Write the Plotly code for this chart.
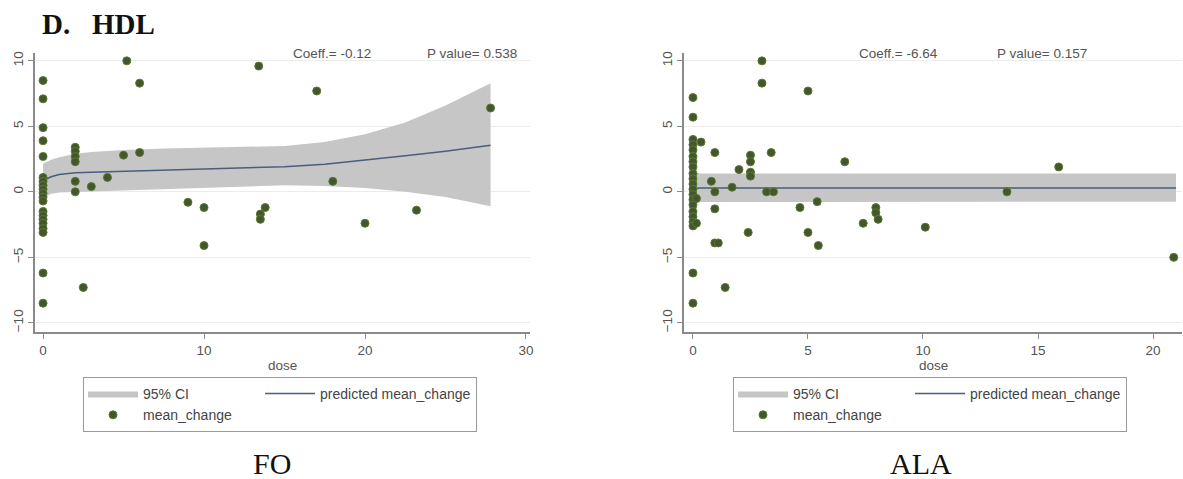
import plotly.graph_objects as go

# ---- FO panel: observed changes ----
fo_dose = [0] * 20 + [2] * 6 + [2.5, 3.0, 4.0, 5.0, 5.2, 6.0, 6.0, 9.0, 10, 10,
                            13.4, 13.5, 13.5, 13.8, 17, 18, 20, 23.2, 27.8]
fo_change = [8.5, 7.1, 4.9, 3.9, 2.7, 1.1, 0.8, 0.5, 0.2, -0.1, -0.4, -0.7,
             -1.5, -1.8, -2.1, -2.4, -2.8, -3.1, -6.2, -8.5,
             3.4, 3.1, 2.7, 2.3, 0.8, 0.0,
             -7.3, 0.4, 1.1, 2.8, 10.0, 8.3, 3.0, -0.8, -1.2, -4.1,
             9.6, -1.7, -2.1, -1.2, 7.7, 0.8, -2.4, -1.4, 6.4]

# ---- FO panel: fitted curve and 95% CI ----
fo_fit_dose = [0, 0.5, 1, 2, 3, 5, 7.5, 10, 12.5, 15, 17.5, 20, 22.5, 25, 27.8]
fo_fit = [0.85, 1.15, 1.32, 1.45, 1.5, 1.57, 1.63, 1.7, 1.78, 1.92, 2.1, 2.4, 2.75, 3.1, 3.55]
fo_upper = [2.15, 2.45, 2.65, 2.9, 3.05, 3.2, 3.3, 3.35, 3.4, 3.5, 3.8, 4.4, 5.3, 6.6, 8.3]
fo_lower = [-0.45, -0.15, -0.05, 0.0, 0.0, 0.1, 0.2, 0.3, 0.4, 0.5, 0.45, 0.3, 0.0, -0.4, -1.1]

# ---- ALA panel: observed changes ----
ala_dose = [0] * 21 + [0.15, 0.15, 0.35, 0.8, 0.95, 0.95, 0.95, 0.95, 1.1, 1.4,
                       1.7, 2.0, 2.4, 2.5, 2.5, 2.5, 2.5, 3.0, 3.0, 3.2, 3.5, 3.4,
                       4.65, 5.0, 5.0, 5.4, 5.45, 6.6, 7.4, 7.95, 7.95, 8.05,
                       10.1, 13.65, 15.9, 20.9]
ala_change = [7.2, 5.7, 4.0, 3.6, 3.2, 2.7, 2.3, 1.9, 1.4, 1.0, 0.6, 0.2, -0.2,
              -0.6, -1.0, -1.5, -1.9, -2.3, -2.6, -6.2, -8.5,
              -0.5, -2.4, 3.8, 0.8, 3.0, 0.0, -1.3, -3.9, -3.9, -7.3,
              0.35, 1.7, -3.1, 2.8, 2.3, 1.5, 1.2, 10.0, 8.3, 0.0, 0.0, 3.0,
              -1.2, 7.7, -3.1, -0.75, -4.1, 2.3, -2.4, -1.2, -1.6, -2.1,
              -2.7, 0.0, 1.9, -5.0]

# ---- ALA panel: fitted curve and 95% CI ----
ala_fit_dose = [0, 0.03, 0.08, 0.15, 0.3, 1, 5, 10, 15, 21]
ala_fit = [-0.2, 0.15, 0.25, 0.28, 0.3, 0.3, 0.3, 0.3, 0.3, 0.3]
ala_upper = [3.1, 1.9, 1.55, 1.45, 1.4, 1.4, 1.4, 1.4, 1.4, 1.4]
ala_lower = [-3.5, -1.6, -1.0, -0.85, -0.78, -0.75, -0.75, -0.75, -0.75, -0.75]

# ---- statistics text ----
fo_stats = ["Coeff.= -0.12", "P value= 0.538"]
ala_stats = ["Coeff.= -6.64", "P value= 0.157"]

y_ticks = [-10, -5, 0, 5, 10]
fo_x_ticks = [0, 10, 20, 30]
ala_x_ticks = [0, 5, 10, 15, 20]

W, H = 1183, 479
SANS = "Liberation Sans, Arial, sans-serif"
SERIF = "Liberation Serif, Times New Roman, serif"
CI_FILL = "#c6c6c6"
LINE_COL = "#4b5d7c"
DOT_COL = "#45552f"
AXIS_COL = "#8a8a8a"
TEXT_COL = "#555555"
NBSP = "\u00a0"


def px_x(p):
    return p / W


def px_y(p):
    return 1 - p / H


fig = go.Figure()


def add_panel(xa, ya, legend, dose, change, fdose, fit, upper, lower):
    fig.add_trace(go.Scatter(
        x=list(fdose) + list(fdose[::-1]),
        y=list(upper) + list(lower[::-1]),
        fill="toself", fillcolor=CI_FILL, line=dict(width=0, color=CI_FILL),
        mode="lines", name="95% CI", legendgroup="g1", legend=legend,
        xaxis=xa, yaxis=ya, hoverinfo="skip"))
    fig.add_trace(go.Scatter(
        x=fdose, y=fit, mode="lines", line=dict(color=LINE_COL, width=1.5),
        name="predicted mean_change", legendgroup="g2", legend=legend,
        xaxis=xa, yaxis=ya))
    # trailing spaces widen the first legend column
    fig.add_trace(go.Scatter(
        x=dose, y=change, mode="markers",
        marker=dict(color=DOT_COL, size=8, line=dict(color="#587a2c", width=1)),
        name="mean_change" + NBSP * 6, legendgroup="g1", legend=legend,
        xaxis=xa, yaxis=ya))


add_panel("x", "y", "legend", fo_dose, fo_change, fo_fit_dose, fo_fit, fo_upper, fo_lower)
add_panel("x2", "y2", "legend2", ala_dose, ala_change, ala_fit_dose, ala_fit, ala_upper, ala_lower)

y_dom = [px_y(332), px_y(53)]
axis_common = dict(showline=True, linecolor=AXIS_COL, linewidth=1.5,
                   ticks="outside", ticklen=5, tickcolor=AXIS_COL, tickwidth=1,
                   tickfont=dict(family=SANS, size=13.5, color=TEXT_COL),
                   zeroline=False)

legend_common = dict(orientation="h", traceorder="grouped",
                     itemwidth=50, bgcolor="white", bordercolor="#9a9a9a",
                     borderwidth=1, xanchor="left", yanchor="top",
                     font=dict(family=SANS, size=14, color="#444444"))

fig.update_layout(
    width=W, height=H, margin=dict(l=0, r=0, t=0, b=0, autoexpand=False),
    paper_bgcolor="white", plot_bgcolor="white",
    xaxis=dict(domain=[px_x(35), px_x(530)], range=[-0.5, 30.25],
               tickvals=fo_x_ticks, showgrid=False, anchor="y", **axis_common),
    yaxis=dict(domain=y_dom, range=[-10.7, 10.6], tickvals=y_ticks,
               tickangle=-90, showgrid=True, gridcolor="#ececec", gridwidth=1,
               anchor="x", **axis_common),
    xaxis2=dict(domain=[px_x(684), px_x(1182)], range=[-0.39, 21.26],
                tickvals=ala_x_ticks, showgrid=False, anchor="y2", **axis_common),
    yaxis2=dict(domain=y_dom, range=[-10.7, 10.6], tickvals=y_ticks,
                tickangle=-90, showgrid=True, gridcolor="#ececec", gridwidth=1,
                anchor="x2", **axis_common),
    legend=dict(x=px_x(83), y=px_y(377), **legend_common),
    legend2=dict(x=px_x(733), y=px_y(377), **legend_common),
)

notes = [
    ("D." + NBSP * 3 + "HDL", px_x(40), px_y(24), "left", dict(family=SERIF, size=29, color="#111111"), True),
    (fo_stats[0], px_x(332), px_y(53), "center", dict(family=SANS, size=13.5, color=TEXT_COL), False),
    (fo_stats[1], px_x(472), px_y(53), "center", dict(family=SANS, size=13.5, color=TEXT_COL), False),
    (ala_stats[0], px_x(898), px_y(53), "center", dict(family=SANS, size=13.5, color=TEXT_COL), False),
    (ala_stats[1], px_x(1042), px_y(53), "center", dict(family=SANS, size=13.5, color=TEXT_COL), False),
    ("dose", px_x(282.5), px_y(365), "center", dict(family=SANS, size=13.5, color=TEXT_COL), False),
    ("dose", px_x(933), px_y(365), "center", dict(family=SANS, size=13.5, color=TEXT_COL), False),
    ("FO", px_x(272), px_y(463), "center", dict(family=SERIF, size=30, color="#111111"), False),
    ("ALA", px_x(921), px_y(463), "center", dict(family=SERIF, size=30, color="#111111"), False),
]
for text, x, y, anchor, font, bold in notes:
    fig.add_annotation(text=f"<b>{text}</b>" if bold else text, x=x, y=y,
                       xref="paper", yref="paper", xanchor=anchor, yanchor="middle",
                       showarrow=False, font=font)

fig.write_html("out.html")
